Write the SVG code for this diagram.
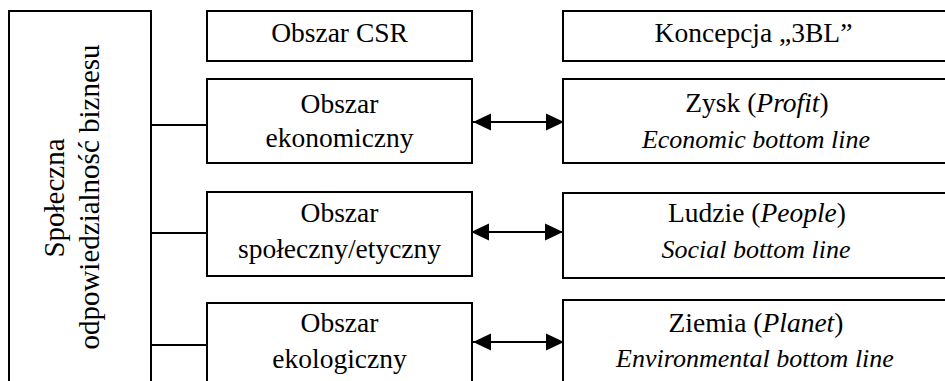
<svg xmlns="http://www.w3.org/2000/svg" width="945" height="381" viewBox="0 0 945 381">
<defs>
<style>
.box{fill:#fff;stroke:#000;stroke-width:2}
.t{font-family:"Liberation Serif","Times New Roman",serif;font-size:27.5px;fill:#000;text-anchor:middle}
.v{font-family:"Liberation Serif","Times New Roman",serif;font-size:29px;fill:#000;text-anchor:middle}
.i{font-style:italic}
.it{font-family:"Liberation Serif","Times New Roman",serif;font-size:26px;font-style:italic;fill:#000;text-anchor:middle}
.ln{stroke:#000;stroke-width:2;fill:none}
.ar{stroke:#000;stroke-width:2;fill:none;marker-start:url(#ah);marker-end:url(#ah)}
</style>
<marker id="ah" markerUnits="userSpaceOnUse" markerWidth="19" markerHeight="18" refX="18" refY="9" orient="auto-start-reverse" viewBox="0 0 19 18">
<path d="M0,0.5 L18,9 L0,17.5 Z" fill="#000"/>
</marker>
</defs>
<rect width="945" height="381" fill="#fff"/>
<g id="csr">
<rect class="box" x="9" y="11" width="142" height="380"/>
<text class="v" transform="translate(64,198) rotate(-90)">Społeczna</text>
<text class="v" transform="translate(99,197) rotate(-90)">odpowiedzialność biznesu</text>
</g>
<g id="h-obszar">
<rect class="box" x="207" y="11" width="265" height="50"/>
<text class="t" x="339.5" y="42">Obszar CSR</text>
</g>
<g id="h-3bl">
<rect class="box" x="563" y="11" width="400" height="50"/>
<text class="t" x="753.5" y="42">Koncepcja „3BL”</text>
</g>
<g id="ekonomiczny">
<rect class="box" x="207" y="79" width="265" height="84"/>
<text class="t" x="339.5" y="113">Obszar</text>
<text class="t" x="339.5" y="147">ekonomiczny</text>
</g>
<g id="spoleczny">
<rect class="box" x="207" y="192" width="265" height="84"/>
<text class="t" x="339.5" y="222">Obszar</text>
<text class="t" x="339.5" y="258">społeczny/etyczny</text>
</g>
<g id="ekologiczny">
<rect class="box" x="207" y="303" width="265" height="100"/>
<text class="t" x="339.5" y="332">Obszar</text>
<text class="t" x="339.5" y="368">ekologiczny</text>
</g>
<g id="zysk">
<rect class="box" x="563" y="79" width="400" height="84"/>
<text class="t" x="757" y="112">Zysk (<tspan class="i">Profit</tspan>)</text>
<text class="it" x="756" y="148">Economic bottom line</text>
</g>
<g id="ludzie">
<rect class="box" x="563" y="193" width="400" height="85"/>
<text class="t" x="757" y="222">Ludzie (<tspan class="i">People</tspan>)</text>
<text class="it" x="756" y="258">Social bottom line</text>
</g>
<g id="ziemia">
<rect class="box" x="563" y="300" width="400" height="100"/>
<text class="t" x="756" y="332">Ziemia (<tspan class="i">Planet</tspan>)</text>
<text class="it" x="755" y="367">Environmental bottom line</text>
</g>
<g id="connectors">
<line class="ln" x1="151" y1="125" x2="207" y2="125"/>
<line class="ln" x1="151" y1="233" x2="207" y2="233"/>
<line class="ln" x1="151" y1="345" x2="207" y2="345"/>
<line class="ar" x1="473" y1="122" x2="564" y2="122"/>
<line class="ar" x1="471" y1="232" x2="563" y2="232"/>
<line class="ar" x1="473" y1="342" x2="564" y2="342"/>
</g>
</svg>
